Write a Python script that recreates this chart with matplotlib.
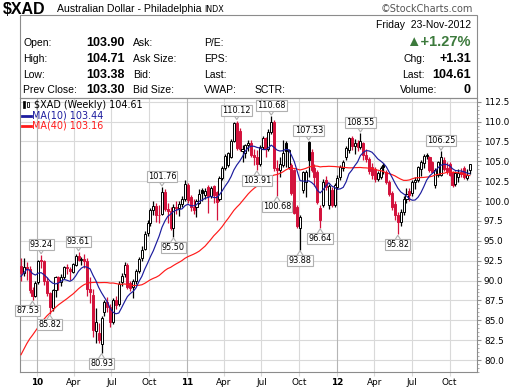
import matplotlib
matplotlib.use("Agg")
import matplotlib.pyplot as plt
import matplotlib.dates as mdates
from matplotlib.patches import Rectangle, Polygon
import numpy as np
import pandas as pd

# ---------------- data (weekly, $XAD) ----------------
week_start = "2009-11-23"   # Monday of first visible week

opens = [91.8, 91.0, 91.7, 91.4, 88.8, 88.0, 89.8, 92.5, 92.4, 90.0,
         88.4, 86.6, 88.8, 90.5, 89.8, 90.5, 91.7, 91.5, 91.1, 92.0,
         93.1, 92.6, 92.7, 92.4, 88.9, 88.2, 83.6, 83.4, 82.0, 86.0,
         87.3, 86.7, 84.8, 87.5, 87.0, 89.8, 90.8, 92.0, 89.7, 89.2,
         89.9, 91.2, 92.8, 94.0, 96.0, 97.3, 98.9, 99.4, 98.3, 98.4,
         101.2, 99.0, 98.7, 96.6, 99.3, 99.1, 99.6, 100.2, 102.0, 100.5,
         99.3, 99.2, 99.8, 101.4, 100.8, 101.8, 100.6, 101.9, 101.1, 100.2,
         102.9, 104.2, 104.5, 105.6, 107.6, 109.8, 108.8, 106.3, 106.0, 107.0,
         107.3, 105.8, 105.6, 104.6, 106.8, 107.9, 106.6, 108.7, 110.0, 104.2,
         103.9, 104.5, 107.3, 104.3, 104.5, 103.9, 99.2, 96.6, 101.4, 102.4,
         107.4, 106.2, 104.2, 103.6, 99.1, 99.5, 102.6, 99.5, 101.4, 99.5,
         101.8, 103.0, 104.2, 105.5, 106.4, 107.9, 106.9, 107.3, 106.8, 107.3,
         105.8, 105.3, 104.3, 104.0, 102.8, 103.0, 104.5, 103.6, 102.4, 101.0,
         99.6, 98.3, 97.4, 98.6, 100.3, 101.3, 101.0, 102.4, 102.6, 104.0,
         104.8, 105.8, 105.5, 104.9, 102.0, 103.3, 103.3, 105.2, 104.2, 104.7,
         103.6, 102.2, 103.0, 103.7, 104.1, 102.9, 103.90]

highs = [92.8, 92.8, 92.3, 91.8, 89.2, 89.9, 92.6, 93.24, 92.6, 90.5,
         88.6, 88.9, 90.6, 90.6, 90.8, 91.8, 92.1, 91.7, 92.2, 93.3,
         93.61, 93.0, 93.4, 92.8, 90.4, 88.9, 86.5, 84.7, 85.6, 87.6,
         87.9, 87.0, 87.8, 88.0, 90.0, 91.0, 92.3, 92.2, 90.0, 90.2,
         91.5, 93.0, 94.3, 96.2, 97.6, 99.1, 100.0, 99.8, 99.5, 101.76,
         101.5, 99.8, 99.2, 99.6, 100.0, 100.0, 100.6, 102.6, 102.3, 100.8,
         100.2, 100.3, 101.5, 101.7, 101.6, 102.0, 101.9, 102.0, 101.3, 103.1,
         104.4, 105.9, 106.2, 107.8, 110.0, 110.12, 109.2, 107.0, 107.2, 107.7,
         107.7, 106.6, 106.4, 107.0, 108.2, 108.0, 109.0, 110.68, 110.2, 105.2,
         105.6, 107.7, 107.5, 106.6, 104.8, 104.0, 99.5, 98.2, 103.8, 103.9,
         107.53, 106.6, 104.7, 103.9, 99.5, 102.8, 103.2, 102.2, 101.8, 102.3,
         103.3, 104.5, 105.1, 106.9, 108.0, 108.2, 107.8, 107.7, 108.55, 107.4,
         106.5, 105.6, 104.8, 104.3, 103.8, 104.4, 104.8, 103.9, 102.6, 101.3,
         100.0, 98.6, 99.0, 100.6, 101.6, 101.6, 102.7, 103.0, 104.4, 105.2,
         105.9, 106.0, 105.7, 105.0, 104.1, 105.0, 106.25, 105.6, 104.9, 104.9,
         103.8, 103.8, 104.0, 104.2, 104.4, 104.0, 104.71]

lows = [89.9, 90.6, 90.1, 88.4, 87.53, 87.9, 89.6, 91.6, 89.4, 88.0,
        85.82, 86.2, 87.9, 88.8, 89.3, 90.2, 90.8, 90.1, 90.9, 91.8,
        92.5, 91.9, 91.6, 88.0, 87.2, 82.9, 82.1, 82.1, 80.93, 85.6,
        86.0, 84.2, 84.5, 86.4, 86.8, 89.3, 90.4, 89.0, 88.7, 87.8,
        89.6, 90.9, 92.5, 93.8, 95.6, 96.9, 98.3, 97.4, 97.3, 98.2,
        98.8, 97.3, 96.4, 95.50, 98.4, 98.1, 99.2, 100.0, 99.8, 98.8,
        98.4, 98.0, 99.6, 100.0, 100.3, 98.5, 100.4, 99.7, 97.6, 100.0,
        102.6, 103.9, 104.3, 105.4, 107.4, 106.4, 106.3, 104.9, 105.4, 106.3,
        105.6, 104.5, 103.91, 104.4, 106.5, 105.6, 106.3, 108.4, 103.8, 100.68,
        103.0, 104.3, 104.3, 104.0, 100.8, 98.4, 96.6, 93.88, 101.0, 100.5,
        103.0, 103.6, 101.9, 99.6, 96.64, 99.2, 101.4, 99.0, 99.2, 99.3,
        101.5, 102.6, 103.8, 105.2, 106.0, 106.4, 105.9, 106.3, 106.5, 105.2,
        104.9, 103.4, 102.8, 102.4, 102.5, 102.8, 103.4, 102.2, 100.6, 98.9,
        97.6, 95.82, 96.9, 98.2, 99.8, 100.0, 100.6, 101.5, 102.4, 103.2,
        104.2, 105.3, 103.7, 103.5, 101.7, 103.0, 103.1, 103.8, 103.4, 103.1,
        101.8, 101.9, 102.4, 103.0, 102.8, 102.7, 103.38]

closes = [90.97, 91.70, 91.40, 88.80, 88.00, 89.75, 92.48, 92.45, 90.00, 88.44,
          86.62, 88.80, 90.46, 89.80, 90.50, 91.75, 91.55, 91.14, 92.05, 93.10,
          92.60, 92.70, 92.40, 88.90, 88.60, 83.80, 84.80, 82.50, 85.30, 87.30,
          86.70, 84.80, 87.50, 86.90, 89.60, 90.60, 92.00, 89.20, 89.10, 90.00,
          91.20, 92.70, 93.90, 95.90, 97.20, 98.90, 99.40, 98.30, 98.20, 101.20,
          99.00, 98.70, 96.60, 99.30, 99.10, 99.60, 100.20, 102.20, 100.10, 99.30,
          98.90, 100.00, 100.90, 101.00, 101.30, 100.60, 101.60, 100.80, 99.90, 102.90,
          104.20, 105.70, 106.00, 107.60, 109.80, 106.70, 106.50, 106.60, 107.00, 107.30,
          105.80, 105.60, 104.60, 106.80, 107.90, 106.60, 108.70, 110.00, 104.20, 103.90,
          104.60, 106.00, 106.30, 106.40, 101.00, 98.50, 96.80, 98.00, 103.60, 103.70,
          105.20, 103.90, 103.00, 99.90, 97.60, 102.40, 101.80, 101.90, 99.50, 102.00,
          102.90, 104.30, 104.90, 106.70, 107.90, 106.90, 107.30, 106.80, 107.60, 105.80,
          105.30, 103.80, 103.30, 102.80, 103.50, 104.20, 104.30, 102.40, 100.90, 99.20,
          98.20, 97.40, 98.60, 100.30, 100.90, 100.70, 102.40, 102.70, 104.30, 104.90,
          105.70, 105.70, 103.90, 103.60, 103.90, 104.90, 105.50, 104.00, 103.80, 103.30,
          102.00, 103.50, 103.50, 103.40, 103.00, 103.30, 104.61]

# weekly closes before the visible window (needed for the moving averages)
prior_closes = [63.9, 64.1, 63.6, 65.0, 69.0, 69.4, 71.5, 71.6, 71.5, 72.0,
                72.9, 75.9, 74.5, 77.0, 80.0, 81.0, 81.4, 79.5, 81.2, 79.8,
                78.5, 81.3, 82.8, 83.6, 84.2, 83.2, 83.6, 84.6, 85.0, 86.8,
                87.3, 87.2, 86.9, 90.0, 92.2, 91.6, 90.1, 91.8, 92.6, 91.8]

high_labels = [7, 20, 49, 75, 87, 100, 118, 146]
low_labels = [4, 10, 28, 53, 82, 89, 97, 104, 131]

y_ticks = [80.0, 82.5, 85.0, 87.5, 90.0, 92.5, 95.0, 97.5, 100.0,
           102.5, 105.0, 107.5, 110.0, 112.5]

# ---------------- figure ----------------
W, H = 516, 389
fig = plt.figure(figsize=(W / 100, H / 100), dpi=100)
fig.patch.set_facecolor("white")

def fx(px):
    return px / W

def fy(py):
    return 1 - py / H

AX_L, AX_R, AX_T, AX_B = 20, 477, 98, 372
ax = fig.add_axes([fx(AX_L), fy(AX_B), fx(AX_R) - fx(AX_L), fy(AX_T) - fy(AX_B)])

dates = pd.date_range(week_start, periods=len(closes), freq="7D")
xs = mdates.date2num(dates.to_pydatetime())

x0 = mdates.date2num(pd.Timestamp("2009-11-20 14:00").to_pydatetime())
x1 = mdates.date2num(pd.Timestamp("2012-12-06 14:00").to_pydatetime())
y0, y1 = 78.53, 112.96
ax.set_xlim(x0, x1)
ax.set_ylim(y0, y1)
pxu = (AX_B - AX_T) / (y1 - y0)        # pixels per price unit
dpp = (x1 - x0) / (AX_R - AX_L)        # days per pixel

GRID = "#d9d9d9"
GRID_YEAR = "#b5b5b5"
EDGE = "#8c8c8c"
RED = "#d3123c"
BLACK = "#000000"
NAVY = "#1c1c9e"
MA40C = "#ff1a1a"

# grid
for v in y_ticks:
    ax.axhline(v, color=GRID, lw=0.8, zorder=1)
qdates = pd.date_range("2010-01-01", "2012-10-01", freq="QS")
qx = mdates.date2num(qdates.to_pydatetime())
for d, x in zip(qdates, qx):
    ax.axvline(x, color=GRID_YEAR if d.month == 1 else GRID, lw=0.8, zorder=1)

# candles
w = 5.0
prev = prior_closes[-1]
for x, o, h, l, c in zip(xs, opens, highs, lows, closes):
    col = BLACK if c >= prev else RED
    ax.plot([x, x], [l, h], color=col, lw=0.9, zorder=3, solid_capstyle="butt")
    filled = c < o
    bottom = min(o, c)
    height = max(abs(c - o), 0.1)
    ax.add_patch(Rectangle((x - w / 2, bottom), w, height,
                           facecolor=col if filled else "white",
                           edgecolor=col, lw=0.7, zorder=4))
    prev = c

# moving averages
allc = pd.Series(prior_closes + closes, dtype=float)
n0 = len(prior_closes)
ma10 = allc.rolling(10).mean().values[n0:]
ma40 = allc.rolling(40).mean().values[n0:]
ax.plot(xs, ma40, color=MA40C, lw=0.85, zorder=5)
ax.plot(xs, ma10, color=NAVY, lw=0.85, zorder=5)

# price labels
def price_label(idx, side, dx=0.0):
    x = xs[idx]
    if side == "H":
        p, s = highs[idx], 1
    else:
        p, s = lows[idx], -1
    apex = p + s * 1.0 / pxu
    base = p + s * 6.0 / pxu
    tri = Polygon([[x - 3.2 * dpp, base], [x, apex], [x + 3.2 * dpp, base]],
                  closed=True, facecolor="white", edgecolor="#b0b0b0",
                  lw=0.8, zorder=6)
    ax.add_patch(tri)
    ax.text(x + dx * dpp, p + s * 10.5 / pxu, f"{p:.2f}", ha="center", va="center",
            fontsize=5.9, family="DejaVu Sans", zorder=7, clip_on=False,
            bbox=dict(boxstyle="square,pad=0.13", fc="white", ec="#b0b0b0", lw=0.8))

for i in high_labels:
    price_label(i, "H")
for i in low_labels:
    price_label(i, "L", dx=(-5 if i == 4 else 0))

# axes styling
ax.yaxis.tick_right()
ax.set_yticks(y_ticks)
ax.set_yticklabels([f"{v:.1f}" for v in y_ticks])
ax.set_yticks(np.arange(78.5, 113.0, 0.5), minor=True)
ax.tick_params(axis="y", which="major", length=3, width=0.8, color=EDGE,
               labelsize=6.4, pad=2)
ax.tick_params(axis="y", which="minor", length=1.5, width=0.5, color=EDGE)
ax.set_xticks(qx)
ax.set_xticklabels([str(d.year)[2:] if d.month == 1 else d.strftime("%b") for d in qdates])
for lbl, d in zip(ax.get_xticklabels(), qdates):
    if d.month == 1:
        lbl.set_fontweight("bold")
        lbl.set_fontsize(7)
ax.tick_params(axis="x", length=3, width=0.8, color=GRID, labelsize=6.4, pad=1.5)
for sp in ax.spines.values():
    sp.set_color(EDGE)
    sp.set_linewidth(0.8)
ax.set_facecolor("white")

# legend (in chart)
fig.add_artist(Rectangle((fx(22.5), fy(107.5)), 2.2 / W, 6 / H, transform=fig.transFigure,
                         fc=BLACK, ec=BLACK, lw=0.5))
fig.add_artist(Rectangle((fx(27), fy(107)), 2.2 / W, 5 / H, transform=fig.transFigure,
                         fc="white", ec=BLACK, lw=0.6))
fig.text(fx(34), fy(104.5), "$XAD (Weekly) 104.61", fontsize=6.9, family="DejaVu Sans",
         va="center", ha="left")
fig.add_artist(plt.Line2D([fx(22), fx(31)], [fy(115.5), fy(115.5)], transform=fig.transFigure,
                          color=NAVY, lw=2))
fig.text(fx(32), fy(115.5), "MA(10) 103.44", fontsize=6.9, family="DejaVu Sans",
         va="center", ha="left", color=NAVY)
fig.add_artist(plt.Line2D([fx(22), fx(31)], [fy(126), fy(126)], transform=fig.transFigure,
                          color=MA40C, lw=2))
fig.text(fx(32), fy(126), "MA(40) 103.16", fontsize=6.9, family="DejaVu Sans",
         va="center", ha="left", color=MA40C)

# header
SANS = ["Liberation Sans", "DejaVu Sans"]
fig.text(fx(3), fy(13.5), "$XAD", fontsize=11.5, fontweight="bold", family=SANS, va="baseline")
fig.text(fx(57), fy(12.5), "Australian Dollar - Philadelphia", fontsize=7.6, family=SANS,
         va="baseline")
fig.text(fx(204), fy(12.5), "INDX", fontsize=5.8, family="DejaVu Sans", va="baseline")
fig.text(fx(473), fy(12.5), "\u00a9StockCharts.com", fontsize=7.0, family="DejaVu Sans",
         va="baseline", ha="right", color="#555555")

fig.add_artist(Rectangle((fx(AX_L), fy(AX_T)), fx(AX_R) - fx(AX_L), fy(15) - fy(AX_T),
                         transform=fig.transFigure, fill=False, ec=EDGE, lw=0.8))

rows = [46, 62, 78, 93]
LBL = 7.5
VAL = 9.0
left_labels = ["Open:", "High:", "Low:", "Prev Close:"]
left_vals = ["103.90", "104.71", "103.38", "103.30"]
mid_labels = ["Ask:", "Ask Size:", "Bid:", "Bid Size:"]
mid2_labels = ["P/E:", "EPS:", "Last:", "VWAP:"]
for r, a, b, c, d in zip(rows, left_labels, left_vals, mid_labels, mid2_labels):
    fig.text(fx(23), fy(r), a, fontsize=LBL, family=SANS, va="baseline")
    fig.text(fx(124.5), fy(r), b, fontsize=VAL, fontweight="bold", family=SANS,
             va="baseline", ha="right")
    fig.text(fx(133), fy(r), c, fontsize=LBL, family=SANS, va="baseline")
    fig.text(fx(204), fy(r), d, fontsize=LBL, family=SANS, va="baseline")
fig.text(fx(255), fy(93), "SCTR:", fontsize=LBL, family=SANS, va="baseline")

fig.text(fx(471), fy(28), "Friday  23-Nov-2012", fontsize=LBL, family=SANS,
         va="baseline", ha="right")
fig.text(fx(471), fy(46.5), "\u25b2+1.27%", fontsize=10.5, fontweight="bold",
         family=SANS, va="baseline", ha="right", color="#3c7a3c")
fig.text(fx(403), fy(62), "Chg:", fontsize=LBL, family=SANS, va="baseline")
fig.text(fx(471), fy(62), "+1.31", fontsize=VAL, fontweight="bold", family=SANS,
         va="baseline", ha="right")
fig.text(fx(402), fy(78), "Last:", fontsize=LBL, family=SANS, va="baseline")
fig.text(fx(471), fy(78), "104.61", fontsize=VAL, fontweight="bold", family=SANS,
         va="baseline", ha="right")
fig.text(fx(400), fy(93), "Volume:", fontsize=LBL, family=SANS, va="baseline")
fig.text(fx(471), fy(93), "0", fontsize=VAL, fontweight="bold", family=SANS,
         va="baseline", ha="right")

fig.savefig("out.png", dpi=100)
